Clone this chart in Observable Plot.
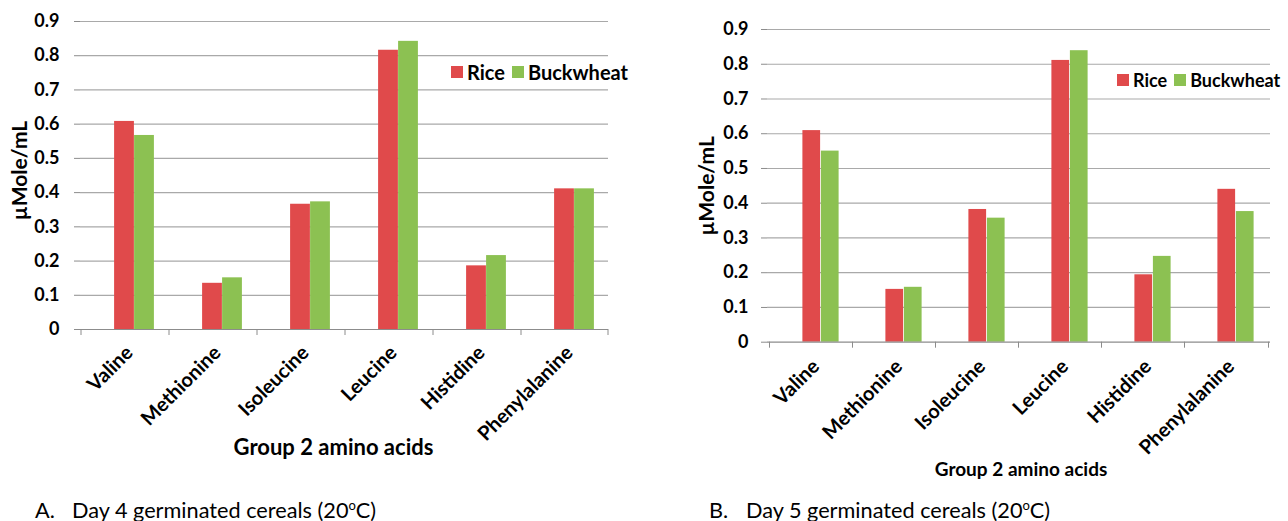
<!DOCTYPE html>
<html><head><meta charset="utf-8">
<script src="https://cdn.jsdelivr.net/npm/d3@7"></script>
<script src="https://cdn.jsdelivr.net/npm/@observablehq/plot@0.6"></script>
<style>
body{margin:0;background:#fff;width:1288px;height:521px;position:relative;overflow:hidden;font-family:Lato,"Open Sans",sans-serif;color:#000}
.panel{position:absolute;top:0}
.legend{position:absolute;font-weight:bold;display:flex;align-items:center;white-space:nowrap;line-height:1}
.sw{display:inline-block;width:12px;height:12px;margin-right:4px}
.cap{position:absolute;font-size:21.7px;white-space:nowrap;line-height:1}
.cap .lab{display:inline-block;width:37px}
sup{font-size:13px;vertical-align:8px;line-height:0}
</style></head><body>
<div id="A" class="panel" style="left:0"></div>
<div id="B" class="panel" style="left:640px"></div>
<div id="legA" class="legend" style="left:451px;top:62px;font-size:20px"></div>
<div id="legB" class="legend" style="left:1117px;top:71px;font-size:18px"></div>
<div class="cap" style="left:35px;top:500px"><span class="lab">A.</span>Day 4 germinated cereals (20<sup>o</sup>C)</div>
<div class="cap" style="left:709px;top:500px"><span class="lab">B.</span>Day 5 germinated cereals (20<sup>o</sup>C)</div>
<script>
const categories = ["Valine","Methionine","Isoleucine","Leucine","Histidine","Phenylalanine"];
const series = ["Rice","Buckwheat"];
const colors = ["#e04a4b","#8cc152"];
const riceDay4 = [0.608, 0.135, 0.366, 0.816, 0.186, 0.411];
const buckwheatDay4 = [0.567, 0.151, 0.373, 0.842, 0.216, 0.411];
const riceDay5 = [0.609, 0.152, 0.382, 0.811, 0.194, 0.440];
const buckwheatDay5 = [0.550, 0.158, 0.357, 0.839, 0.247, 0.376];
const yTicks = [0, 0.1, 0.2, 0.3, 0.4, 0.5, 0.6, 0.7, 0.8, 0.9];
const yLabel = "µMole/mL";
const xLabel = "Group 2 amino acids";

const font = "Lato, 'Open Sans', sans-serif";

function chart(o) {
  const rice = categories.map((c, i) => ({category: c, value: o.rice[i]}));
  const buck = categories.map((c, i) => ({category: c, value: o.buck[i]}));
  const half = o.band / 2;
  return Plot.plot({
    width: o.width, height: o.height,
    marginLeft: o.ml, marginRight: o.mr, marginTop: o.mt, marginBottom: o.mb,
    style: {fontFamily: font, background: "#fff", overflow: "visible"},
    x: {domain: categories, range: o.xRange, padding: 0, axis: null},
    y: {domain: [0, 0.9], axis: null},
    marks: [
      Plot.ruleY(yTicks.filter(d => d > 0), {stroke: "#a9a9a9", strokeWidth: 1.2}),
      Plot.barY(rice, {x: "category", y: "value", fill: colors[0], insetLeft: half - o.bar, insetRight: half}),
      Plot.barY(buck, {x: "category", y: "value", fill: colors[1], insetLeft: half, insetRight: half - o.bar}),
      Plot.ruleY([0], {stroke: "#8c8c8c", strokeWidth: 1.2}),
      Plot.axisY({ticks: yTicks, tickSize: 6, tickPadding: o.ypad, line: true, stroke: "#8c8c8c",
        tickFormat: d3.format("~g"), fontSize: 18, fontWeight: "bold", fill: "#000", label: null}),
      Plot.axisX({ticks: categories, tickSize: 6, tickFormat: () => "", dx: o.tickDx, stroke: "#8c8c8c", label: null}),
      Plot.axisX({ticks: [categories[5]], tickSize: 6, tickFormat: () => "", dx: o.lastDx, stroke: "#8c8c8c", label: null}),
      Plot.axisX({ticks: categories, tickSize: 0, tickPadding: o.xpad, tickRotate: -45, dx: o.labDx,
        fontSize: 20, fontWeight: "bold", fill: "#000", label: null}),
      Plot.text([xLabel], {frameAnchor: "bottom", lineAnchor: "middle", textAnchor: "middle", dy: o.xTitleDy, dx: o.xTitleDx,
        fontSize: o.xTitleSize, fontWeight: "bold", fill: "#000"}),
      Plot.text([yLabel], {frameAnchor: "left", textAnchor: "middle", lineAnchor: "middle", dx: o.yTitleDx, dy: o.yTitleDy, rotate: -90,
        fontSize: 21, fontWeight: "bold", fill: "#000"})
    ]
  });
}

document.getElementById("A").append(chart({
  width: 640, height: 490, ml: 80, mr: 32, mt: 21, mb: 161,
  xRange: [89.4, 618.6], band: 88.2, bar: 20, ypad: 15, xpad: 20, labDx: -5,
  tickDx: -53.5, lastDx: 33.5, xTitleDy: 118, xTitleDx: -11, xTitleSize: 22,
  yTitleDx: -60, yTitleDy: -5,
  rice: riceDay4, buck: buckwheatDay4
}));
document.getElementById("B").append(chart({
  width: 648, height: 490, ml: 127, mr: 18, mt: 29, mb: 148.3,
  xRange: [136.6, 639.4], band: 83.8, bar: 18.5, ypad: 13, xpad: 21, labDx: -5,
  tickDx: -51.5, lastDx: 32.5, xTitleDy: 128, xTitleDx: 2, xTitleSize: 19,
  yTitleDx: -60, yTitleDy: 0,
  rice: riceDay5, buck: buckwheatDay5
}));

for (const id of ["legA", "legB"]) {
  const el = document.getElementById(id);
  series.forEach((s, i) => {
    const sw = document.createElement("span");
    sw.className = "sw"; sw.style.background = colors[i];
    if (i > 0) sw.style.marginLeft = "7px";
    el.append(sw, document.createTextNode(s));
  });
}
</script>
</body></html>
